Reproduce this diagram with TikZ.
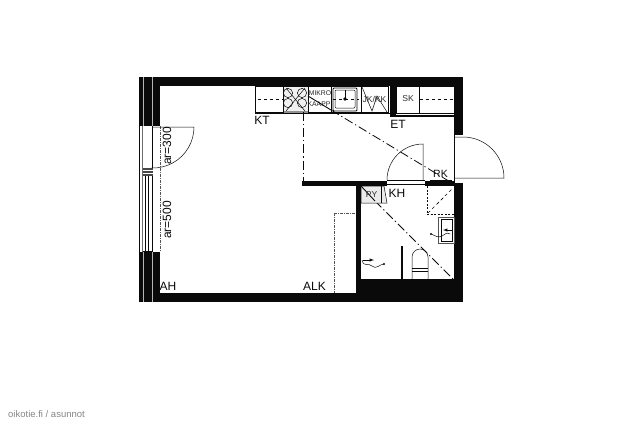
\documentclass[tikz,border=0pt]{standalone}
\usepackage{fontspec}
\setmainfont{Liberation Sans}
\definecolor{ink}{HTML}{0A0A0A}
\tikzset{
 x=1pt,y=-1pt,
 wall/.style={fill=ink,draw=none},
 thin/.style={draw=ink,line width=0.5pt},
 med/.style={draw=ink,line width=0.9pt},
 dd/.style={draw=ink,line width=0.8pt,dash pattern=on 9pt off 3pt on 1.2pt off 3pt},
 dl/.style={draw=ink!70,line width=0.6pt,dash pattern=on 3pt off 1pt on 1pt off 1pt},
 sd/.style={draw=ink,line width=0.9pt,dash pattern=on 2pt off 1.5pt},
 lab/.style={font=\fontsize{12pt}{12pt}\selectfont,text=ink,inner sep=0pt},
 slab/.style={font=\fontsize{8.6pt}{9pt}\selectfont,text=ink!85,inner sep=0pt},
 tlab/.style={font=\fontsize{6.8pt}{7pt}\selectfont,text=ink!90,inner sep=0pt},
}
\begin{document}
\begin{tikzpicture}
\useasboundingbox (0,0) rectangle (640,426);
% walls
\fill[wall] (139,77) rectangle (463,86);
\fill[wall] (139,77) rectangle (160,126);
\fill[wall] (139,252) rectangle (160,302);
\fill[wall] (160,293) rectangle (357,302);
\fill[wall] (454,77) rectangle (463,135);
\fill[wall] (356,181) rectangle (361,293);
\fill[wall] (356,279) rectangle (463,302);
\fill[wall] (454,183) rectangle (463,302);
\fill[wall] (302,181) rectangle (387,186);
\fill[wall] (425,181) rectangle (454,186);
\fill[wall] (390,86) rectangle (396,117);
\fill[wall] (396,115) rectangle (454,117);
\draw[white!70!ink,line width=0.4pt] (152,77)--(152,126) (143,77)--(143,126) (152,252)--(152,302) (143,252)--(143,302);
% window
\draw[thin] (139,126)--(139,252) (152,126)--(152,252);
\draw[draw=ink!60,line width=1pt] (142.5,126)--(142.5,252);
\draw[thin] (145.5,175)--(145.5,252) (148.5,175)--(148.5,252);
\fill[ink!75] (143,168) rectangle (153,176);
\draw[white,line width=0.5pt] (143,170.5)--(153,170.5) (143,173.5)--(153,173.5);
\draw[thin] (143,251)--(152,251);
\draw[dl] (160,126)--(160,252);
% balcony door arc
\draw[thin] (153,127)--(194,127) arc[start angle=0,end angle=92,radius=41];
% texts rotated
\node[lab,rotate=90] (ar3) at (167,146) {ar=300};
\node[lab,rotate=90] (ar5) at (167,220) {ar=500};
% kitchen
\draw[thin] (255,86) rectangle (283,112);
\draw[thin,dashed] (258,99)--(283,99);
\draw[med,fill=ink!6] (283,86) rectangle (308,112);
\draw[draw=ink!45,line width=1.5pt] (284,112)--(308,112);
\foreach \a/\b in {288/93,302/93,288/103,302/103}{\draw[thin] (\a,\b) circle[radius=4.6];}
\draw[thin] (286,88)--(305,111) (305,88)--(286,111);
\draw[med] (308,86) rectangle (331,112);
\node[tlab] (mv) at (320,93) {MIKRO};
\node[tlab] (ka) at (319,104) {KAAPP};
\draw[med] (331,86) rectangle (361,112);
\draw[med,rounded corners=1pt] (333,88) rectangle (357,111);
\draw[thin,rounded corners=1pt] (335,90) rectangle (355,108);
\fill[ink] (345,99) circle[radius=1.8];
\draw[thin] (345,90)--(345,99);
\draw[thin,dashed] (333,99)--(359,99);
\draw[med] (361,86) rectangle (388,112);
\draw[thin] (362,87)--(372,111)--(377,96)--(387,112);
\node[slab] (jk) at (374.5,99) {JK/KK};
\draw[thin] (255,113)--(390,113);
\node[lab] (kt) at (262,120) {KT};
% SK
\draw[med] (396,86) rectangle (419,113);
\draw[thin] (419,86) rectangle (454,113);
\draw[thin,dashed] (420,99)--(454,99);
\node[slab] (sk) at (408,99) {SK};
\node[lab] (et) at (398,124) {ET};
% dash-dot room lines
\draw[dd] (303,112)--(303,181);
\draw[med] (308,96)--(331,110);
\draw[dd] (331,110)--(452,183);
\draw[dd] (375,201)--(453,279);
% dotted space
\draw[dl] (334,213)--(356,213);
\draw[dl] (334,213)--(334,293);
% door interior
\draw[thin] (423,180)--(423,144) arc[start angle=-90,end angle=-180,radius=36];
\draw[thin] (387,180)--(425,180);
\draw[thin] (387,184)--(425,184);
% entrance door
\draw[thin] (454,137)--(463,137) arc[start angle=-90,end angle=0,radius=41]--(454,178);
\draw[thin] (454,135)--(454,183);
% RK
\node[lab,font=\fontsize{10.5pt}{11pt}\selectfont] (rk) at (440.5,174) {RK};
\draw[med] (430,180)--(452,180);
% bath
\draw[sd] (427,186)--(427,214)--(454,214);
\draw[thin,dashed] (428,213)--(453,188);
\draw[thin,dashed] (437,204)--(444,197);
\draw[thin,fill=ink!8] (361,186) -- (384,186) -- (387,203) -- (361,203) -- cycle;
\draw[thin] (381,186)--(381,203);
\draw[med] (361,186)--(375,201);
\node[slab] (py) at (371.5,195) {PY};
\node[lab] (kh) at (397,193) {KH};
\fill[ink] (401,246) rectangle (403,279);
% toilet
\draw[thin] (412,279)--(412,257) arc[start angle=180,end angle=360,radius=8] --(428,279);
\draw[thin] (412,268)--(428,268) (412,271)--(428,271);
% basin
\draw[draw=ink!70,line width=0.9pt] (438,217) rectangle (454,243);
\draw[thin] (441,219) rectangle (452,241);
\draw[thin] (431,234) .. controls (436,236) and (438,238) .. (442,236) .. controls (446,234) and (446,232) .. (450,234);
\fill[ink] (431,234) circle[radius=1.2];
\draw[thin,-latex] (452,230)--(443,230);
% shower
\draw[thin] (362,260) .. controls (364,268) and (368,262) .. (372,266) .. controls (376,270) and (380,264) .. (384,264);
\fill[ink] (384,264) circle[radius=1.2];
\draw[thin,-latex] (363,260)--(374,260);
% labels
\node[lab] (ah) at (168,286) {AH};
\node[lab] (alk) at (314.5,286) {ALK};
% watermark
\node[font=\fontsize{9.5pt}{10pt}\selectfont,text=ink!50,inner sep=0pt] (wm) at (46.5,414) {oikotie.fi / asunnot};
\end{tikzpicture}
\end{document}
